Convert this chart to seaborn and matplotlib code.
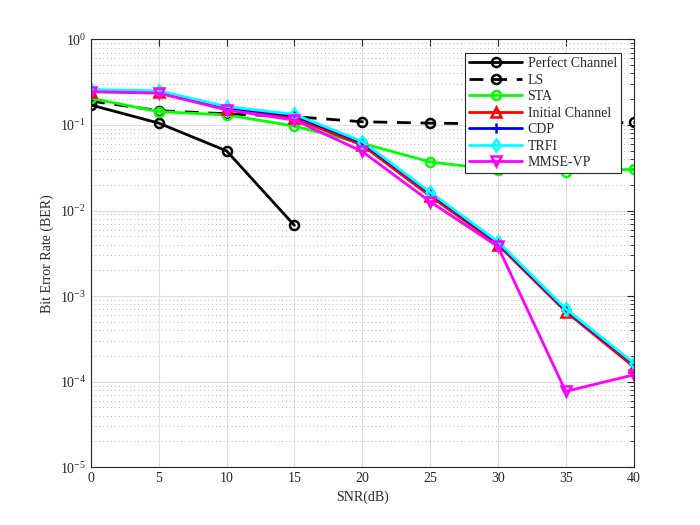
import numpy as np
import pandas as pd
import matplotlib
matplotlib.use("Agg")
import matplotlib.pyplot as plt
import seaborn as sns
from matplotlib.ticker import LogLocator, LogFormatterMathtext, NullFormatter

snr = [0, 5, 10, 15, 20, 25, 30, 35, 40]
snr_perfect = [0, 5, 10, 15]
ber_perfect = [0.171, 0.105, 0.0497, 0.0067]
ber_ls = [0.19, 0.147, 0.135, 0.125, 0.109, 0.105, 0.103, 0.104, 0.107]
ber_sta = [0.205, 0.143, 0.131, 0.097, 0.061, 0.037, 0.0298, 0.0285, 0.0303]
ber_initial = [0.245, 0.24, 0.155, 0.12, 0.058, 0.0148, 0.0040, 0.00066, 0.00015]
ber_cdp = [0.255, 0.245, 0.16, 0.128, 0.062, 0.016, 0.0042, 0.00069, 0.000162]
ber_trfi = [0.26, 0.25, 0.164, 0.133, 0.064, 0.0164, 0.00433, 0.00071, 0.000166]
ber_mmse = [0.245, 0.235, 0.15, 0.114, 0.049, 0.0127, 0.0038, 0.000077, 0.00012]

sns.set_style("white")
plt.rcParams['font.family'] = ['Liberation Serif', 'DejaVu Serif']
plt.rcParams['mathtext.fontset'] = 'stix'
plt.rcParams['font.size'] = 10

fig = plt.figure(figsize=(7, 5.25), dpi=100)
ax = fig.add_axes([0.13, 0.11, 0.775, 0.815])

series = [
    ("Perfect Channel", snr_perfect, ber_perfect, "black", "o", "-"),
    ("LS", snr, ber_ls, "black", "o", "--"),
    ("STA", snr, ber_sta, "#00ff00", "o", "-"),
    ("Initial Channel", snr, ber_initial, "#ff0000", "^", "-"),
    ("CDP", snr, ber_cdp, "#0000ff", "+", "-"),
    ("TRFI", snr, ber_trfi, "#00ffff", "d", "-"),
    ("MMSE-VP", snr, ber_mmse, "#ff00ff", "v", "-"),
]

for name, xs, ys, col, mk, ls in series:
    df = pd.DataFrame({"SNR": xs, "BER": ys})
    kw = {}
    if ls == "--":
        kw["dashes"] = (5, 3.5)
    sns.lineplot(data=df, x="SNR", y="BER", ax=ax, color=col, marker=mk,
                 linewidth=2, markersize=6.5,
                 markerfacecolor="none", markeredgecolor=col,
                 markeredgewidth=1.8, label=name, **kw)

ax.set_yscale("log")
ax.set_xlim(0, 40)
ax.set_ylim(1e-5, 1)
ax.set_xticks(np.arange(0, 41, 5))
ax.yaxis.set_major_locator(LogLocator(base=10, numticks=10))
ax.yaxis.set_major_formatter(LogFormatterMathtext())
ax.yaxis.set_minor_locator(LogLocator(base=10, subs=np.arange(2, 10), numticks=20))
ax.yaxis.set_minor_formatter(NullFormatter())

ax.grid(True, which="major", color="#dedede", linewidth=0.8, linestyle="-")
ax.grid(True, which="minor", axis="y", color="#b8b8b8", linewidth=0.7, linestyle=(0, (1, 3)))
ax.set_axisbelow(True)

for sp in ax.spines.values():
    sp.set_color("#262626")
    sp.set_linewidth(0.8)
ax.tick_params(which="both", direction="in", top=True, right=True, colors="#262626",
               labelcolor="#262626", labelsize=10)
ax.tick_params(which="major", length=5)
ax.tick_params(which="minor", length=3)

ax.set_xlabel("SNR(dB)", color="#262626", fontsize=10)
ax.set_ylabel("Bit Error Rate (BER)", color="#262626", fontsize=10)

leg = ax.legend(loc="upper right", bbox_to_anchor=(0.977, 0.968), frameon=True,
                fancybox=False, edgecolor="#262626", framealpha=1,
                fontsize=10, handlelength=3.8, borderpad=0.3, labelspacing=0.25,
                handletextpad=0.4, borderaxespad=0)
leg.get_frame().set_linewidth(0.8)

fig.savefig("out.png", dpi=100, facecolor="white")
